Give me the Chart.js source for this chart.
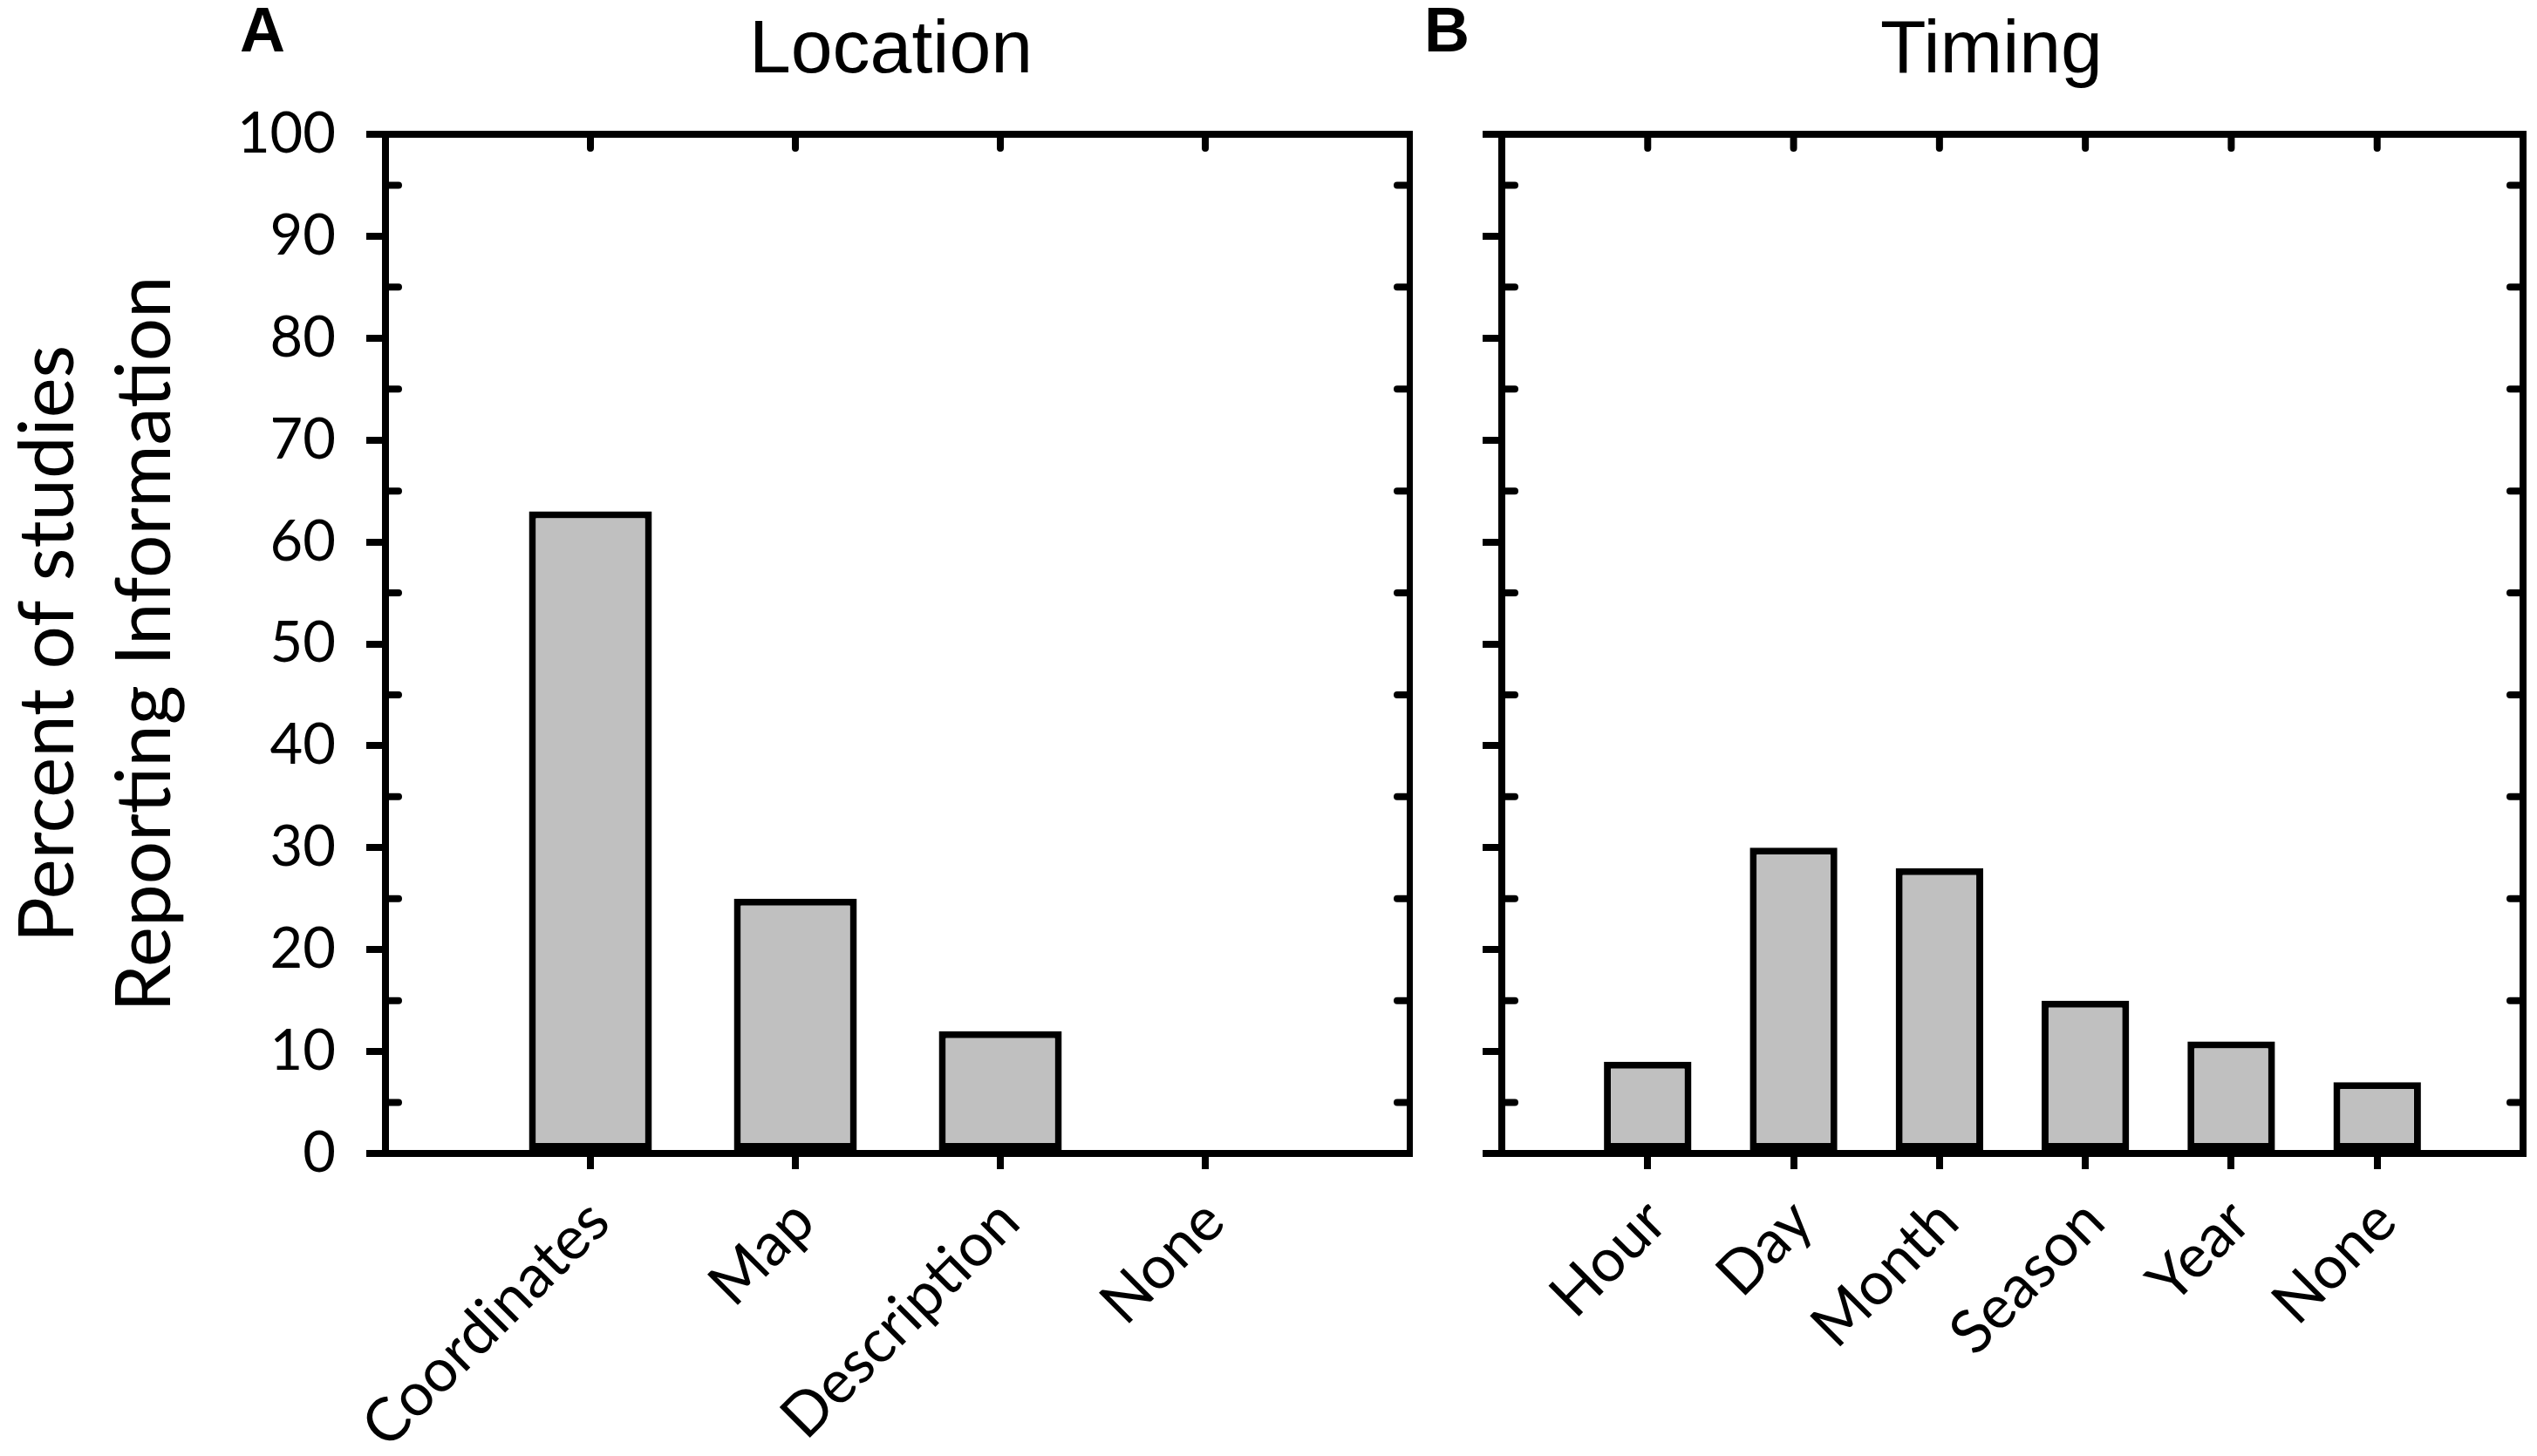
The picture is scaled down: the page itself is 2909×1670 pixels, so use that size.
<!DOCTYPE html>
<html>
<head>
<meta charset="utf-8">
<script src="https://cdn.jsdelivr.net/npm/chart.js@4.4.1/dist/chart.umd.min.js"></script>
<style>
    html, body { margin: 0; padding: 0; background: #fff; }
    #wrap { position: relative; width: 2909px; height: 1670px; }
    canvas { position: absolute; top: 0; }
    #chartA { left: 0; }
    #chartB { left: 1620px; }
</style>
</head>
<body>
<div id="wrap">
    <canvas id="chartA" width="1620" height="1670"></canvas>
    <canvas id="chartB" width="1289" height="1670"></canvas>
</div>
<script>
// data
const locationLabels = ["Coordinates", "Map", "Description", "None"];
const locationValues = [63, 25, 12, 0];

const timingLabels = ["Hour", "Day", "Month", "Season", "Year", "None"];
const timingValues = [9, 30, 28, 15, 11, 7];

const yMin = 0;
const yMax = 100;
const yStep = 10;
const minorTicks = [5, 15, 25, 35, 45, 55, 65, 75, 85, 95];
const yTitle = ["Percent of studies", "Reporting Information"];

const LINE = 8;

// top/right frame lines + the short inward ticks Chart.js can't draw
const framePlugin = {
    id: "frame",
    afterDatasetsDraw(chart, args, opts) {
        const { ctx, chartArea: a, scales: { x, y } } = chart;
        ctx.save();
        ctx.strokeStyle = "#000";
        ctx.lineWidth = LINE;
        ctx.lineCap = "round";
        ctx.beginPath();
        ctx.moveTo(a.left, a.top);
        ctx.lineTo(a.right, a.top);
        ctx.lineTo(a.right, a.bottom);
        opts.labels.forEach((l, i) => {
            const px = x.getPixelForValue(i + 1);
            ctx.moveTo(px, a.top);
            ctx.lineTo(px, a.top + 16);
        });
        minorTicks.forEach(v => {
            const py = y.getPixelForValue(v);
            ctx.moveTo(a.left, py);
            ctx.lineTo(a.left + 15, py);
            ctx.moveTo(a.right, py);
            ctx.lineTo(a.right - 15, py);
        });
        ctx.stroke();

        ctx.fillStyle = "#000";
        ctx.textBaseline = "alphabetic";
        ctx.font = '86px "Liberation Sans"';
        ctx.textAlign = "center";
        ctx.fillText(opts.title, (a.left + a.right) / 2 - opts.titleShift, 83);
        ctx.font = 'bold 72px "Liberation Sans"';
        ctx.textAlign = "left";
        ctx.fillText(opts.letter, opts.letterX, 59);
        ctx.restore();
    }
};

function makePanel(id, cfg) {
    const labels = cfg.labels;
    return new Chart(document.getElementById(id), {
        type: "bar",
        data: {
            datasets: [{
                data: cfg.values.map((v, i) => ({ x: i + 1, y: v })),
                backgroundColor: "#c0c0c0",
                borderColor: "#000",
                borderWidth: LINE,
                borderSkipped: false,
                categoryPercentage: 1,
                barPercentage: 0.6
            }]
        },
        plugins: [framePlugin],
        options: {
            responsive: false,
            animation: false,
            devicePixelRatio: 1,
            layout: { padding: { top: 154, right: cfg.padRight, bottom: 0, left: 0 } },
            plugins: {
                legend: { display: false },
                tooltip: { enabled: false },
                frame: { labels, title: cfg.title, letter: cfg.letter, letterX: cfg.letterX, titleShift: cfg.titleShift }
            },
            scales: {
                x: {
                    type: "linear",
                    min: 0,
                    max: labels.length + 1,
                    offset: false,
                    afterFit: s => {
                        s.height = 347;
                        s.paddingLeft = 0;
                        s.paddingRight = 0;
                    },
                    border: { color: "#000", width: LINE },
                    grid: {
                        offset: false,
                        drawOnChartArea: false,
                        tickLength: 18,
                        lineWidth: LINE,
                        color: c => (c.tick && c.tick.value >= 1 && c.tick.value <= labels.length) ? "#000" : "rgba(0,0,0,0)"
                    },
                    ticks: {
                        stepSize: 1,
                        autoSkip: false,
                        minRotation: 45,
                        maxRotation: 45,
                        padding: 19,
                        labelOffset: 10,
                        color: "#000",
                        font: { family: "Lato", size: 69 },
                        callback: v => labels[v - 1] || ""
                    }
                },
                y: {
                    min: yMin,
                    max: yMax,
                    afterFit: s => { s.width = cfg.yWidth; },
                    border: { color: "#000", width: LINE },
                    grid: { drawOnChartArea: false, tickLength: 22, lineWidth: LINE, color: "#000" },
                    ticks: {
                        stepSize: yStep,
                        display: cfg.showY,
                        padding: 35,
                        color: "#000",
                        font: { family: "Lato", size: 65 }
                    },
                    title: {
                        display: cfg.showY,
                        text: yTitle,
                        color: "#000",
                        padding: 0,
                        font: { family: "Lato", size: 87, lineHeight: 1.28 }
                    }
                }
            }
        }
    });
}

makePanel("chartA", {
    labels: locationLabels, values: locationValues,
    title: "Location", letter: "A", letterX: 275, titleShift: 8,
    yWidth: 442, padRight: 3, showY: true
});

makePanel("chartB", {
    labels: timingLabels, values: timingValues,
    title: "Timing", letter: "B", letterX: 13, titleShift: 24,
    yWidth: 102, padRight: 16, showY: false
});
</script>
</body>
</html>
